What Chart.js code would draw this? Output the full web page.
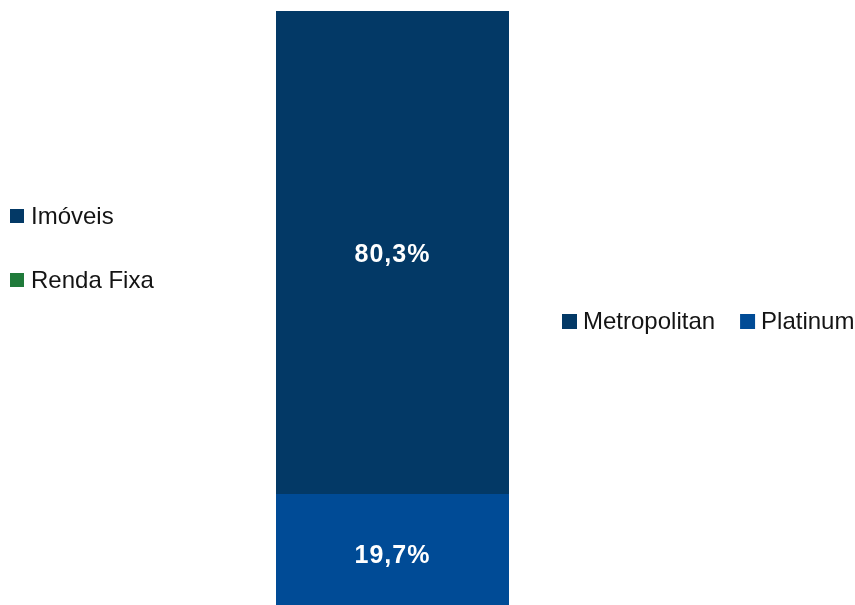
<!DOCTYPE html>
<html>
<head>
<meta charset="utf-8">
<script src="https://cdn.jsdelivr.net/npm/chart.js@4/dist/chart.umd.min.js"></script>
<style>
html,body{margin:0;padding:0;background:#fff;overflow:hidden;}
#wrap{position:relative;width:855px;height:613px;}
</style>
</head>
<body>
<div id="wrap"><canvas id="c"></canvas></div>
<script>
// ---- data ----
const categories = [''];
const seriesNames = ['Platinum', 'Metropolitan'];
const platinumValues = [19.7];
const metropolitanValues = [80.3];
const sideLegendLabels = ['Imóveis', 'Renda Fixa'];

// ---- styles ----
const COLORS = { Platinum: '#004b96', Metropolitan: '#033966' };
const SIDE_COLORS = ['#033966', '#1f7a3a'];
const FONT = '"Liberation Sans", Arial, Helvetica, sans-serif';

const labelsPlugin = {
  id: 'segLabels',
  afterDatasetsDraw(chart) {
    const ctx = chart.ctx;
    ctx.save();
    ctx.fillStyle = '#ffffff';
    ctx.font = 'bold 25px ' + FONT;
    if ('letterSpacing' in ctx) ctx.letterSpacing = '1px';
    ctx.textAlign = 'center';
    ctx.textBaseline = 'middle';
    chart.data.datasets.forEach((ds, i) => {
      const meta = chart.getDatasetMeta(i);
      meta.data.forEach((el, j) => {
        const v = ds.data[j];
        const y = (el.y + el.base) / 2;
        ctx.fillText(v.toFixed(1).replace('.', ',') + '%', el.x, y + 2);
      });
    });
    ctx.restore();
  }
};

const legendsPlugin = {
  id: 'customLegends',
  afterDraw(chart) {
    const ctx = chart.ctx;
    ctx.save();
    ctx.font = '24px ' + FONT;
    ctx.textBaseline = 'middle';
    ctx.textAlign = 'left';
    // left vertical legend
    sideLegendLabels.forEach((lab, i) => {
      const cy = 216 + i * 64;
      ctx.fillStyle = SIDE_COLORS[i];
      ctx.fillRect(10, cy - 7, 14, 14);
      ctx.fillStyle = '#141414';
      ctx.fillText(lab, 31, cy + 1);
    });
    // right horizontal legend (from datasets, in reversed order)
    const items = chart.data.datasets.slice().reverse();
    let x = 562;
    const cy = 321;
    items.forEach(ds => {
      ctx.fillStyle = ds.backgroundColor;
      ctx.fillRect(x, cy - 7, 15, 15);
      ctx.fillStyle = '#141414';
      ctx.fillText(ds.label, x + 21, cy + 1);
      x += 21 + ctx.measureText(ds.label).width + 25;
    });
    ctx.restore();
  }
};

new Chart(document.getElementById('c'), {
  type: 'bar',
  data: {
    labels: categories,
    datasets: [
      { label: seriesNames[0], data: platinumValues, backgroundColor: COLORS.Platinum, borderWidth: 0 },
      { label: seriesNames[1], data: metropolitanValues, backgroundColor: COLORS.Metropolitan, borderWidth: 0 }
    ]
  },
  options: {
    responsive: true,
    maintainAspectRatio: false,
    animation: false,
    layout: { padding: { left: 276, right: 346, top: 11, bottom: 0 } },
    datasets: { bar: { barPercentage: 1, categoryPercentage: 1 } },
    scales: {
      x: { stacked: true, display: false },
      y: { stacked: true, display: false, min: 0, max: 100 }
    },
    plugins: { legend: { display: false }, tooltip: { enabled: false } }
  },
  plugins: [labelsPlugin, legendsPlugin]
});
</script>
</body>
</html>
